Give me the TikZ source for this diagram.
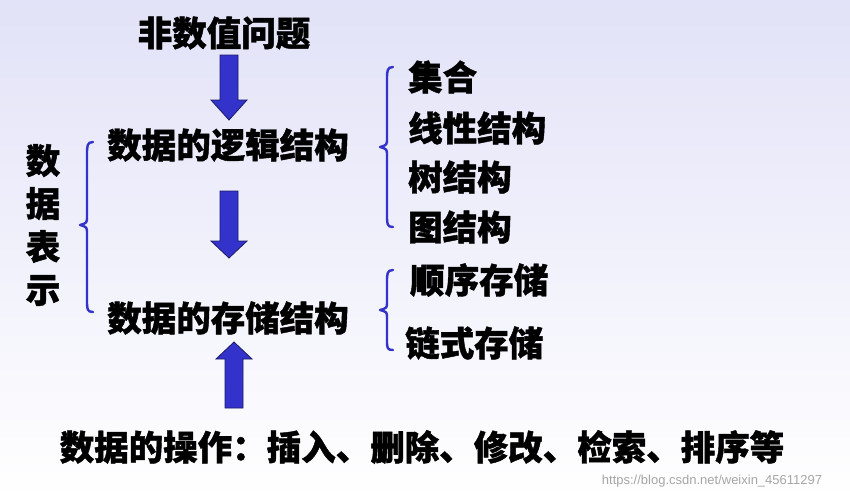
\documentclass[tikz,border=0pt]{standalone}
\usepackage{fontspec}
\newfontfamily\cjk{Noto Sans CJK SC}[BoldFeatures={FakeBold=1.2}]
\setmainfont{Liberation Sans}
\definecolor{ablue}{HTML}{3333CC}
\definecolor{aedge}{HTML}{1A1A66}
\definecolor{bgtop}{HTML}{E2E2F8}
\begin{document}
\begin{tikzpicture}[x=1pt,y=-1pt,
  lbl/.style={font=\cjk\bfseries\fontsize{34.5}{34.5}\selectfont, inner sep=0pt},
  brc/.style={draw=ablue, line width=2.4pt, line cap=round, line join=round},
  blk/.style={fill=ablue, draw=aedge, line width=0.8pt}]
\shade[top color=bgtop, bottom color=white] (0,0) rectangle (850,498);
\useasboundingbox (0,0) rectangle (850,498);
\node[lbl] (top) at (224,33) {非数值问题};
\node[lbl] (logic) at (228,145) {数据的逻辑结构};
\node[lbl] (store) at (228,318) {数据的存储结构};
\node[lbl] (ops) at (422,447) {数据的操作：插入、删除、修改、检索、排序等};
\node[lbl, align=center, font=\cjk\bfseries\fontsize{34.5}{43}\selectfont] (rep) at (43,225) {数\\据\\表\\示};
\node[lbl, anchor=west] (s1) at (408,77) {集合};
\node[lbl, anchor=west] (s2) at (408,128) {线性结构};
\node[lbl, anchor=west] (s3) at (408,177) {树结构};
\node[lbl, anchor=west] (s4) at (408,227) {图结构};
\node[lbl, anchor=west] (t1) at (410,280) {顺序存储};
\node[lbl, anchor=west] (t2) at (405,343) {链式存储};
\node[font=\fontsize{13}{13}\selectfont, text=black!35, inner sep=0pt] (wm) at (712,481) {https://blog.csdn.net/weixin\_45611297};
% arrows
\draw[blk] (220,55) -- (238,55) -- (238,100) -- (247,100) -- (229,120) -- (211,100) -- (220,100) -- cycle;
\draw[blk] (220,191) -- (238,191) -- (238,241) -- (247,241) -- (229,258) -- (211,241) -- (220,241) -- cycle;
\draw[blk] (225,408) -- (243,408) -- (243,359) -- (252,359) -- (234,342) -- (216,359) -- (225,359) -- cycle;
% braces
\draw[brc] (93,142) .. controls (87,142) and (87,146) .. (87,155) -- (87,216) .. controls (87,223) .. (80,225) .. controls (87,227) .. (87,234) -- (87,300) .. controls (87,309) and (87,312) .. (93,312);
\draw[brc] (393,67) .. controls (387,67) and (387,71) .. (387,80) -- (387,138) .. controls (387,145) .. (380,147) .. controls (387,149) .. (387,156) -- (387,215) .. controls (387,224) and (387,227) .. (393,227);
\draw[brc] (393,270) .. controls (387,270) and (387,274) .. (387,282) -- (387,302) .. controls (387,308) .. (380,310) .. controls (387,312) .. (387,318) -- (387,340) .. controls (387,348) and (387,350) .. (393,350);
\end{tikzpicture}
\end{document}
